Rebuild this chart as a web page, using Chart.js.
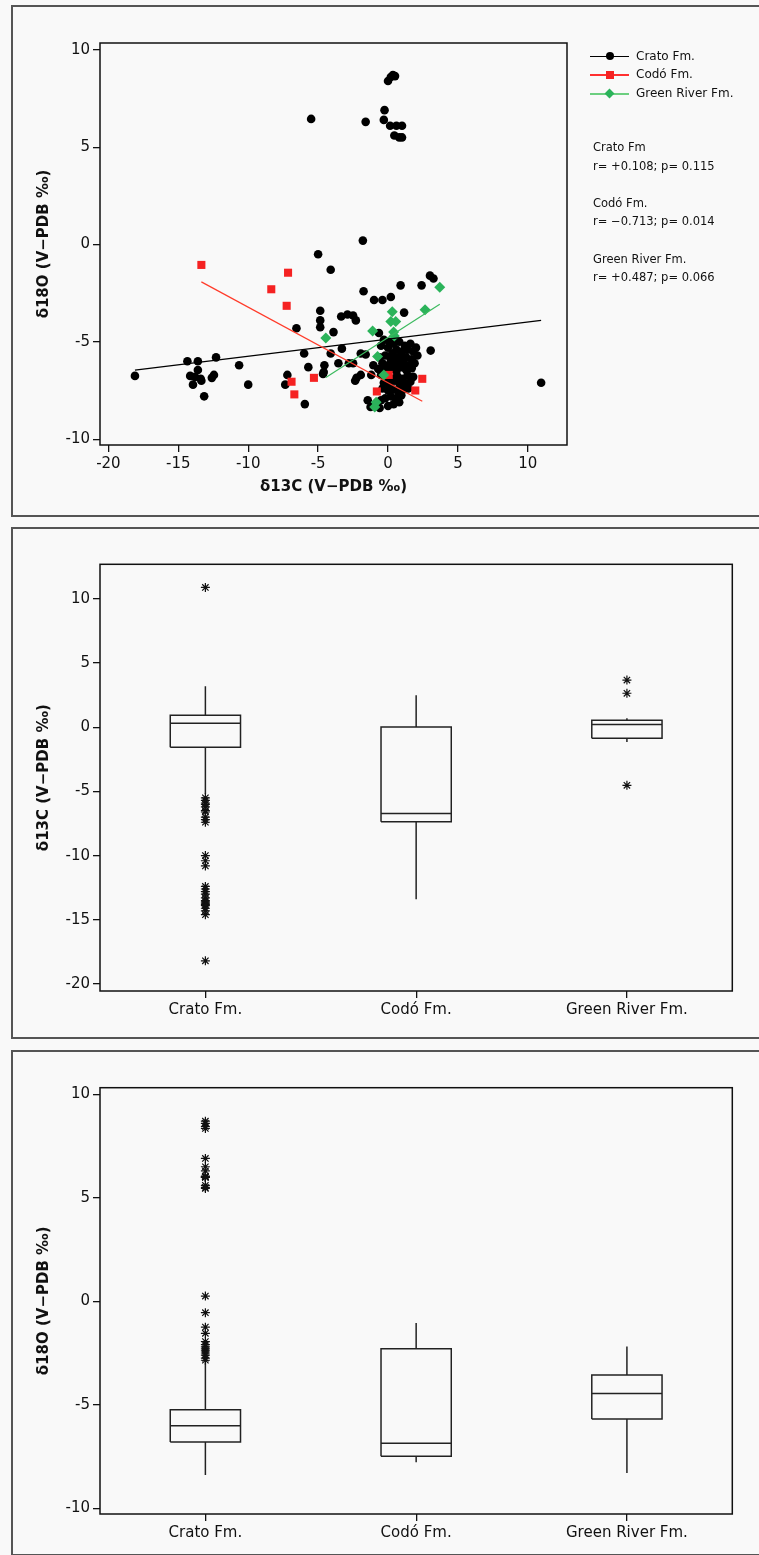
<!DOCTYPE html>
<html>
<head>
<meta charset="utf-8">
<title>Crato, Codó and Green River isotopes</title>
<script src="https://cdn.jsdelivr.net/npm/chart.js@4.4.1/dist/chart.umd.min.js"></script>
<style>
    html, body { margin: 0; padding: 0; background: #f9f9f9; }
    body { width: 759px; height: 1555px; position: relative; overflow: hidden; font-family: "DejaVu Sans", sans-serif; color: #111; }
    .panel { position: absolute; left: 11px; width: 770px; box-sizing: border-box; border: 2px solid #555; background: #f9f9f9; }
    .wrap { position: absolute; left: 12px; width: 747px; }
    .lg-row { position: absolute; left: 590px; height: 19px; width: 160px; font-size: 12px; line-height: 19px; }
    .lg-line { position: absolute; left: 0; top: 9px; width: 39px; height: 1.5px; }
    .lg-mark { position: absolute; }
    .lg-text { position: absolute; left: 46px; top: 0; white-space: nowrap; }
    .stats { position: absolute; left: 593px; top: 138px; font-size: 11.5px; line-height: 18.6px; white-space: nowrap; }
</style>
</head>
<body>

<div class="panel" style="top:5px;height:512px"></div>
<div class="panel" style="top:527px;height:512px"></div>
<div class="panel" style="top:1050px;height:506px"></div>

<div class="wrap" style="top:6px;height:510px"><canvas id="scatterChart"></canvas></div>
<div class="wrap" style="top:528px;height:510px"><canvas id="carbonBox"></canvas></div>
<div class="wrap" style="top:1050px;height:505px"><canvas id="oxygenBox"></canvas></div>

<div class="lg-row" style="top:46.5px">
    <div class="lg-line" style="background:#000"></div>
    <div class="lg-mark" style="left:15.5px;top:5.5px;width:8px;height:8px;border-radius:50%;background:#000"></div>
    <div class="lg-text">Crato Fm.</div>
</div>
<div class="lg-row" style="top:65.2px">
    <div class="lg-line" style="background:#ff3030"></div>
    <div class="lg-mark" style="left:15.5px;top:5.5px;width:8px;height:8px;background:#f52222"></div>
    <div class="lg-text">Codó Fm.</div>
</div>
<div class="lg-row" style="top:84.2px">
    <div class="lg-line" style="background:#6ccf80"></div>
    <div class="lg-mark" style="left:16px;top:6px;width:7px;height:7px;background:#2bb35a;transform:rotate(45deg)"></div>
    <div class="lg-text">Green River Fm.</div>
</div>

<div class="stats">
    Crato Fm<br>r= +0.108; p= 0.115<br><br>
    Codó Fm.<br>r= −0.713; p= 0.014<br><br>
    Green River Fm.<br>r= +0.487; p= 0.066
</div>

<script>
// --- scatter data: δ13C (x) and δ18O (y), V-PDB ‰ ---
const cratoC13 = [
    -18.1, -14.35, -13.6, -13.6, -14.15, -13.8, -13.4, -13.95, -13.35, -13.15, -12.6, -12.45, -12.3, -10.65, -10.0,
    -7.2, -7.35, -6.55, -6.0, -5.95, -5.7, -5.5, -5.0, -4.85, -4.85, -4.85, -4.55, -4.6, -4.65, -4.1,
    -4.1, -3.9, -3.55, -3.35, -3.3, -2.9, -2.8, -2.5, -2.5, -2.3, -2.35, -2.25, -1.95, -1.95, -1.8,
    -1.75, -1.6, -1.6, -1.45, -1.25, -1.2, -1.05, -1.0, -0.8, -0.65, -0.4, -0.25, -0.3, 0.0, 0.2,
    0.35, 0.5, 0.15, 0.6, 1.0, 0.45, 0.8, 1.0, 0.2, 0.9, 1.15, 2.4, 3.0, 3.25, 3.05, 10.95,
    -0.3, 0.1, 0.4, 0.8, 1.2, 1.6, 2.0, 0.0, 0.6, 1.0, 1.4, 1.8, -0.5, 0.3,
    -0.6, -0.2, 0.2, 0.5, 0.9, 1.3, 1.7, 2.1, -0.4, 0.0, 0.35, 0.7, 1.1, 1.5, 1.9,
    -0.7, -0.1, 0.25, 0.6, 0.95, 1.3, 1.7, 0.45, 0.8, -0.3,
    -0.5, -0.1, 0.3, 0.65, 1.0, 1.4, 1.8, -0.3, 0.1, 0.5, 0.85, 1.2, 1.6, 0.0, 0.4, 0.75, 1.1, 1.45, -0.4,
    0.2, 0.6, 0.95, -0.2, 0.4, 0.0, -0.5, 0.8, -0.6
];
const cratoO18 = [
    -6.75, -6.0, -6.0, -6.45, -6.75, -6.8, -6.9, -7.2, -7.0, -7.8, -6.85, -6.7, -5.8, -6.2, -7.2,
    -6.7, -7.2, -4.3, -5.6, -8.2, -6.3, 6.45, -0.5, -3.4, -3.9, -4.25, -6.2, -6.55, -6.65, -1.3,
    -5.6, -4.5, -6.1, -3.7, -5.35, -3.6, -6.1, -3.65, -6.1, -3.9, -7.0, -6.85, -6.7, -5.6, 0.2,
    -2.4, 6.3, -5.65, -8.0, -8.35, -6.7, -6.2, -2.85, -8.25, -4.55, -2.85, 6.9, 6.4, 8.4, 8.6,
    8.7, 8.65, 6.1, 6.1, 6.1, 5.6, 5.5, 5.5, -2.7, -2.1, -3.5, -2.1, -1.6, -1.75, -5.45, -7.1,
    -4.9, -5.0, -5.1, -5.0, -5.2, -5.1, -5.3, -5.3, -5.4, -5.5, -5.4, -5.5, -5.2, -5.6,
    -5.8, -5.7, -5.9, -5.8, -5.7, -5.8, -5.9, -5.7, -6.1, -6.2, -6.0, -6.1, -6.0, -6.2, -6.1,
    -6.4, -6.5, -6.4, -6.5, -6.3, -6.45, -6.35, -6.2, -5.95, -6.3,
    -6.7, -6.8, -6.9, -6.75, -6.9, -6.7, -6.8, -7.1, -7.2, -7.0, -7.2, -7.1, -7.05, -7.5, -7.45, -7.6, -7.45, -7.4, -7.4,
    -7.8, -7.9, -7.75, -7.9, -8.2, -8.3, -8.0, -8.1, -8.4
];
const codoC13 = [-13.35, -7.15, -8.35, -7.25, -5.3, -6.9, -6.7, -0.8, 2.45, 1.95, 0.05];
const codoO18 = [-1.05, -1.45, -2.3, -3.15, -6.85, -7.05, -7.7, -7.55, -6.9, -7.5, -6.7];
const greenC13 = [-4.45, -1.1, -0.95, -0.85, -0.75, -0.3, 0.2, 0.55, 0.3, 0.4, 0.45, 2.65, 3.7];
const greenO18 = [-4.8, -4.45, -8.35, -8.1, -5.75, -6.7, -3.95, -3.95, -3.45, -4.5, -4.7, -3.35, -2.2];

// least-squares lines: y = a + b·x
const fitIntercept = [-4.86, -7.10, -4.78];
const fitSlope = [0.0878, -0.388, 0.461];

// --- box plot summaries ---
const boxCats = ['Crato Fm.', 'Codó Fm.', 'Green River Fm.'];
const c13Low = [-5.2, -13.4, -1.14];
const c13Q1 = [-1.56, -7.37, -0.86];
const c13Median = [0.31, -6.72, 0.21];
const c13Q3 = [0.93, 0.02, 0.55];
const c13High = [3.2, 2.5, 0.7];
const c13Outliers = [
    [10.9, -5.5, -5.7, -5.9, -6.0, -6.2, -6.5, -6.6, -7.0, -7.2, -7.4, -10.0, -10.4, -10.8,
     -12.4, -12.6, -12.8, -13.0, -13.3, -13.5, -13.6, -13.7, -13.8, -13.9, -14.1, -14.3, -14.6, -18.2],
    [],
    [3.68, 2.65, -4.52]
];
const o18Low = [-8.4, -7.78, -8.3];
const o18Q1 = [-6.8, -7.49, -5.69];
const o18Median = [-6.01, -6.86, -4.46];
const o18Q3 = [-5.24, -2.29, -3.56];
const o18High = [-2.97, -1.05, -2.19];
const o18Outliers = [
    [8.7, 8.6, 8.45, 8.35, 6.9, 6.5, 6.3, 6.05, 6.0, 6.0, 6.0, 6.0, 5.6, 5.5, 5.45, 0.25,
     -0.55, -1.25, -1.55, -1.95, -2.1, -2.2, -2.3, -2.4, -2.5, -2.6, -2.75, -2.85],
    [],
    []
];

const BOX_HALF = 1 / 6;
const INK = '#111';
const GAP = { x: null, y: null };

Chart.defaults.font.family = '"DejaVu Sans", sans-serif';
Chart.defaults.color = INK;
Chart.defaults.animation = false;
Chart.defaults.plugins.legend.display = false;
Chart.defaults.plugins.tooltip.enabled = false;

const plotFrame = {
    id: 'plotFrame',
    afterDatasetsDraw(chart) {
        const { ctx, chartArea: a } = chart;
        ctx.save();
        ctx.strokeStyle = INK;
        ctx.lineWidth = 1.5;
        ctx.strokeRect(a.left, a.top, a.right - a.left, a.bottom - a.top);
        ctx.restore();
    }
};

function toPoints(xs, ys) {
    return xs.map((x, i) => ({ x, y: ys[i] }));
}

function fitLine(xs, k) {
    const lo = Math.min(...xs), hi = Math.max(...xs);
    return [lo, hi].map(x => ({ x, y: fitIntercept[k] + fitSlope[k] * x }));
}

function axis(min, max, step, extra) {
    return {
        type: 'linear',
        min, max,
        ticks: { stepSize: step, includeBounds: false, padding: 3, font: { size: 15 }, color: INK, maxRotation: 0 },
        grid: { drawOnChartArea: false, drawTicks: true, tickLength: 7, color: INK, lineWidth: 1.3 },
        border: { display: false },
        ...extra
    };
}

function yTitle(text) {
    return { display: true, text, font: { size: 15, weight: 'bold' }, color: INK, padding: { top: 23.5, bottom: 0 } };
}

// scatter plot
new Chart(document.getElementById('scatterChart'), {
    type: 'scatter',
    data: {
        datasets: [
            { data: fitLine(greenC13, 2), showLine: true, pointRadius: 0, borderColor: '#3cba5f', borderWidth: 1.2 },
            { data: fitLine(codoC13, 1), showLine: true, pointRadius: 0, borderColor: '#ff3b2a', borderWidth: 1.2 },
            { data: fitLine(cratoC13, 0), showLine: true, pointRadius: 0, borderColor: '#000', borderWidth: 1.2 },
            { label: 'Green River Fm.', data: toPoints(greenC13, greenO18), pointStyle: 'rectRot', pointRadius: 5.5,
              backgroundColor: '#2bb35a', borderColor: '#2bb35a', borderWidth: 0 },
            { label: 'Codó Fm.', data: toPoints(codoC13, codoO18), pointStyle: 'rect', pointRadius: 5.7,
              backgroundColor: '#f52222', borderColor: '#f52222', borderWidth: 0 },
            { label: 'Crato Fm.', data: toPoints(cratoC13, cratoO18), pointStyle: 'circle', pointRadius: 4.3,
              backgroundColor: '#000', borderColor: '#000', borderWidth: 0 }
        ]
    },
    options: {
        responsive: true,
        maintainAspectRatio: false,
        layout: { padding: { top: 37, right: 192, left: 0, bottom: 0 } },
        scales: {
            x: axis(-20.6, 12.8, 5, {
                title: { display: true, text: 'δ13C (V−PDB ‰)', font: { size: 15, weight: 'bold' }, color: INK, padding: { top: 0, bottom: 20 } },
                afterFit(s) { s.height = 71; }
            }),
            y: axis(-10.3, 10.35, 5, {
                title: yTitle('δ18O (V−PDB ‰)'),
                afterFit(s) { s.width = 88; }
            })
        }
    },
    plugins: [plotFrame]
});

function boxOutline(low, q1, median, q3, high) {
    const pts = [];
    boxCats.forEach((_, i) => {
        pts.push(
            { x: i - BOX_HALF, y: q1[i] }, { x: i + BOX_HALF, y: q1[i] }, { x: i + BOX_HALF, y: q3[i] },
            { x: i - BOX_HALF, y: q3[i] }, { x: i - BOX_HALF, y: q1[i] }, GAP,
            { x: i - BOX_HALF, y: median[i] }, { x: i + BOX_HALF, y: median[i] }, GAP,
            { x: i, y: q3[i] }, { x: i, y: high[i] }, GAP,
            { x: i, y: q1[i] }, { x: i, y: low[i] }, GAP
        );
    });
    return pts;
}

function outlierPoints(outliers) {
    return outliers.flatMap((vals, i) => vals.map(y => ({ x: i, y })));
}

function createBoxChart(canvasId, low, q1, median, q3, high, outliers, yMin, yMax, title, padTop, xHeight) {
    return new Chart(document.getElementById(canvasId), {
        type: 'scatter',
        data: {
            datasets: [
                { data: outlierPoints(outliers), pointStyle: 'star', pointRadius: 4.5, borderColor: INK, borderWidth: 1.2 },
                { data: boxOutline(low, q1, median, q3, high), showLine: true, spanGaps: false, pointRadius: 0,
                  borderColor: '#222', borderWidth: 1.5 }
            ]
        },
        options: {
            responsive: true,
            maintainAspectRatio: false,
            layout: { padding: { top: padTop, right: 26.7, left: 0, bottom: 0 } },
            scales: {
                x: axis(-0.5, 2.5, 1, {
                    ticks: { padding: 3, font: { size: 15 }, color: INK, maxRotation: 0, autoSkip: false,
                             callback: v => boxCats[v] ?? '' },
                    afterBuildTicks(s) { s.ticks = boxCats.map((_, i) => ({ value: i })); },
                    afterFit(s) { s.height = xHeight; }
                }),
                y: axis(yMin, yMax, 5, {
                    title: yTitle(title),
                    afterFit(s) { s.width = 88; }
                })
            }
        },
        plugins: [plotFrame]
    });
}

createBoxChart('carbonBox', c13Low, c13Q1, c13Median, c13Q3, c13High, c13Outliers, -20.55, 12.7, 'δ13C (V−PDB ‰)', 36.3, 47);
createBoxChart('oxygenBox', o18Low, o18Q1, o18Median, o18Q3, o18High, o18Outliers, -10.28, 10.32, 'δ18O (V−PDB ‰)', 37.7, 41);
</script>
</body>
</html>
